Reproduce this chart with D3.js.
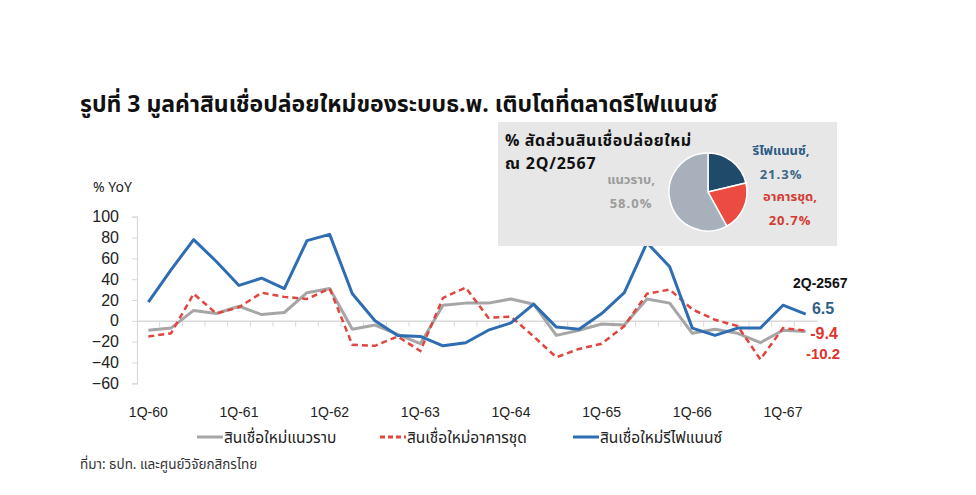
<!DOCTYPE html>
<html>
<head>
<meta charset="utf-8">
<script src="https://cdn.jsdelivr.net/npm/d3@7"></script>
<style>
  body { margin: 0; background: #fff; }
  svg text { font-family: "Noto Sans Thai", "Noto Sans", "DejaVu Sans", sans-serif; }
</style>
</head>
<body>
<div id="chart"></div>
<script>
const quarters = [
  "1Q-60","2Q-60","3Q-60","4Q-60","1Q-61","2Q-61","3Q-61","4Q-61",
  "1Q-62","2Q-62","3Q-62","4Q-62","1Q-63","2Q-63","3Q-63","4Q-63",
  "1Q-64","2Q-64","3Q-64","4Q-64","1Q-65","2Q-65","3Q-65","4Q-65",
  "1Q-66","2Q-66","3Q-66","4Q-66","1Q-67","2Q-67"
];
const xTickLabels = ["1Q-60","1Q-61","1Q-62","1Q-63","1Q-64","1Q-65","1Q-66","1Q-67"];
const yTicks = [-60, -40, -20, 0, 20, 40, 60, 80, 100];

// สินเชื่อใหม่แนวราบ
const flatValues = [-9, -7, 10, 7, 14, 6, 8, 27, 31, -8, -4, -13, -22, 15, 17, 17, 21, 16, -14, -9,
  -3, -4, 21, 17, -12, -8, -12, -21, -9, -10.2];
// สินเชื่อใหม่อาคารชุด
const condoValues = [-15, -12, 26, 7, 13, 27, 23, 21, 31, -23, -24, -15, -29, 22, 32, 3, 4, -15, -35, -27,
  -22, -5, 26, 30, 11, 1, -5, -37, -7, -9.4];
// สินเชื่อใหม่รีไฟแนนซ์
const refiValues = [18, 49, 78, 57, 34, 41, 31, 77, 83, 26, 0, -14, -15, -24, -21, -9, -2, 16, -6, -8,
  7, 27, 75, 52, -7, -14, -7, -7, 15, 6.5];

const seriesNames = ["สินเชื่อใหม่แนวราบ", "สินเชื่อใหม่อาคารชุด", "สินเชื่อใหม่รีไฟแนนซ์"];
const endLabels = ["-10.2", "-9.4", "6.5"];

const pieNames = ["รีไฟแนนซ์", "อาคารชุด", "แนวราบ"];
const pieShares = [21.3, 20.7, 58.0];

const width = 976, height = 495;
const colors = { flat: "#a6a6a6", condo: "#e0453f", refi: "#2f6db3" };

const svg = d3.select("#chart").append("svg")
  .attr("width", width).attr("height", height);

// title
svg.append("text")
  .attr("x", 80).attr("y", 112)
  .attr("font-size", 23).attr("font-weight", "bold").attr("fill", "#111")
  .text("รูปที่ 3 มูลค่าสินเชื่อปล่อยใหม่ของระบบธ.พ. เติบโตที่ตลาดรีไฟแนนซ์");

const x = d3.scaleBand().domain(quarters).range([137, 817]);
const y = d3.scaleLinear().domain([-60, 100]).range([383.3, 216.7]);
const cx = (q) => x(q) + x.bandwidth() / 2;

// y axis
svg.append("text")
  .attr("x", 93).attr("y", 192)
  .attr("font-size", 14).attr("fill", "#222")
  .text("% YoY");

const yAxis = svg.append("g")
  .attr("transform", `translate(${x.range()[0]},0)`)
  .call(d3.axisLeft(y).tickValues(yTicks).tickSize(5).tickPadding(13));
yAxis.select(".domain").attr("stroke", "#d9d9d9").attr("stroke-width", 1.2);
yAxis.selectAll(".tick line").attr("stroke", "#d9d9d9");
yAxis.selectAll(".tick text")
  .attr("font-size", 16).attr("fill", "#222")
  .style("font-family", "Liberation Sans, Arial, sans-serif");

// x axis on zero line, ticks between categories
const xAxis = svg.append("g")
  .attr("transform", `translate(0,${y(0)})`)
  .call(d3.axisBottom(x).tickValues([]).tickSizeOuter(0));
xAxis.select(".domain").attr("stroke", "#d9d9d9").attr("stroke-width", 1.5);
xAxis.selectAll(".between")
  .data(quarters.slice(1))
  .enter().append("line")
  .attr("x1", (q) => x(q)).attr("x2", (q) => x(q))
  .attr("y1", 0).attr("y2", 6)
  .attr("stroke", "#d9d9d9");

svg.append("g").selectAll("text")
  .data(xTickLabels)
  .enter().append("text")
  .attr("x", (q) => cx(q)).attr("y", 417)
  .attr("text-anchor", "middle")
  .attr("font-size", 14).attr("fill", "#222")
  .style("font-family", "Liberation Sans, Arial, sans-serif")
  .text((d) => d);

// lines
const line = d3.line()
  .x((d, i) => cx(quarters[i]))
  .y((d) => y(d));

svg.append("path").datum(flatValues)
  .attr("fill", "none").attr("stroke", colors.flat).attr("stroke-width", 3)
  .attr("stroke-linejoin", "round").attr("d", line);
svg.append("path").datum(condoValues)
  .attr("fill", "none").attr("stroke", colors.condo).attr("stroke-width", 2.5)
  .attr("stroke-dasharray", "6,4").attr("d", line);
svg.append("path").datum(refiValues)
  .attr("fill", "none").attr("stroke", colors.refi).attr("stroke-width", 3)
  .attr("stroke-linejoin", "round").attr("d", line);

// end labels
const lastX = 823;
svg.append("text").attr("x", 793).attr("y", 288).attr("font-size", 14)
  .attr("font-weight", "bold").attr("fill", "#111")
  .style("font-family", "Liberation Sans, Arial, sans-serif").text("2Q-2567");
svg.append("text").attr("x", lastX).attr("y", 313.5).attr("font-size", 16)
  .attr("font-weight", "bold").attr("fill", "#2f5f88").attr("text-anchor", "middle")
  .style("font-family", "Liberation Sans, Arial, sans-serif").text(endLabels[2]);
svg.append("text").attr("x", lastX + 1).attr("y", 338.5).attr("font-size", 16)
  .attr("font-weight", "bold").attr("fill", "#e0342d").attr("text-anchor", "middle")
  .style("font-family", "Liberation Sans, Arial, sans-serif").text(endLabels[1]);
svg.append("text").attr("x", lastX).attr("y", 359).attr("font-size", 15)
  .attr("font-weight", "bold").attr("fill", "#e0342d").attr("text-anchor", "middle")
  .style("font-family", "Liberation Sans, Arial, sans-serif").text(endLabels[0]);

// legend
const legendItems = [
  { name: seriesNames[0], color: colors.flat, dash: null, x0: 197 },
  { name: seriesNames[1], color: colors.condo, dash: "5,3", x0: 380 },
  { name: seriesNames[2], color: colors.refi, dash: null, x0: 573 }
];
const legend = svg.append("g");
legendItems.forEach((d) => {
  legend.append("line")
    .attr("x1", d.x0).attr("x2", d.x0 + 26)
    .attr("y1", 437).attr("y2", 437)
    .attr("stroke", d.color).attr("stroke-width", 3)
    .attr("stroke-dasharray", d.dash);
  legend.append("text")
    .attr("x", d.x0 + 27).attr("y", 443)
    .attr("font-size", 15.5).attr("fill", "#222")
    .text(d.name);
});

svg.append("text")
  .attr("x", 80).attr("y", 469)
  .attr("font-size", 13.5).attr("fill", "#333")
  .text("ที่มา: ธปท. และศูนย์วิจัยกสิกรไทย");

// inset box with pie
const inset = svg.append("g");
inset.append("rect")
  .attr("x", 498).attr("y", 122)
  .attr("width", 339).attr("height", 124)
  .attr("fill", "#e7e7e7");

inset.append("text").attr("x", 505).attr("y", 146)
  .attr("font-size", 16).attr("font-weight", "bold").attr("fill", "#111")
  .attr("letter-spacing", 0.6)
  .text("% สัดส่วนสินเชื่อปล่อยใหม่");
inset.append("text").attr("x", 505).attr("y", 169)
  .attr("font-size", 16).attr("font-weight", "bold").attr("fill", "#111")
  .attr("letter-spacing", 0.8)
  .text("ณ 2Q/2567");

const pieColors = ["#1f4a6a", "#eb4b40", "#a8b1bb"];
const pie = d3.pie().sort(null).value((d) => d);
const arc = d3.arc().innerRadius(0).outerRadius(39);
inset.append("g")
  .attr("transform", "translate(708,192)")
  .selectAll("path")
  .data(pie(pieShares))
  .enter().append("path")
  .attr("d", arc)
  .attr("fill", (d, i) => pieColors[i])
  .attr("stroke", "#fff").attr("stroke-width", 1.5);

const pieLabels = [
  { name: pieNames[2] + ",", val: pieShares[2].toFixed(1) + "%", x0: 631, y0: 184, color: "#9b9b9b", valColor: "#9b9b9b" },
  { name: pieNames[0] + ",", val: pieShares[0].toFixed(1) + "%", x0: 781, y0: 155, color: "#2c5b84", valColor: "#3e6787" },
  { name: pieNames[1] + ",", val: pieShares[1].toFixed(1) + "%", x0: 790, y0: 201, color: "#d33a33", valColor: "#d33a33" }
];
pieLabels.forEach((d) => {
  inset.append("text").attr("x", d.x0).attr("y", d.y0)
    .attr("text-anchor", "middle").attr("font-size", 13).attr("font-weight", "bold")
    .attr("fill", d.color).text(d.name);
  inset.append("text").attr("x", d.x0).attr("y", d.y0 + 24)
    .attr("text-anchor", "middle").attr("font-size", 13).attr("font-weight", "bold")
    .attr("letter-spacing", 1)
    .attr("fill", d.valColor).text(d.val);
});
</script>
</body>
</html>
